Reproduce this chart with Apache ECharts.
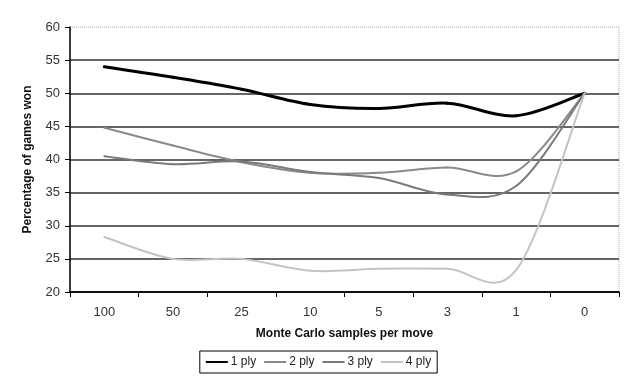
<!DOCTYPE html>
<html>
<head>
<meta charset="utf-8">
<script src="https://cdn.jsdelivr.net/npm/echarts@6/dist/echarts.min.js"></script>
<style>html,body{margin:0;padding:0;background:#fff}#c{width:637px;height:380px}</style>
</head>
<body>
<div id="c"></div>
<script>
var categories = ['100', '50', '25', '10', '5', '3', '1', '0'];
var ply1 = [54.0, 52.4, 50.6, 48.3, 47.7, 48.5, 46.6, 50.0];
var ply2 = [44.8, 42.1, 39.6, 38.0, 38.0, 38.8, 38.2, 50.0];
var ply3 = [40.5, 39.3, 39.7, 38.1, 37.2, 34.7, 36.0, 50.0];
var ply4 = [28.3, 25.0, 25.0, 23.2, 23.5, 23.5, 23.3, 50.0];
var seriesNames = ['1 ply', '2 ply', '3 ply', '4 ply'];
var yTicks = {min: 20, max: 60, interval: 5};

var chart = echarts.init(document.getElementById('c'), null, {renderer: 'canvas'});
var font = 'Liberation Sans, Arial, sans-serif';

// Excel-style smoothed line (Catmull-Rom / 6) drawn through the axis scales
function mk(name, values, color, width) {
  var n = values.length;
  return {
    name: name, type: 'custom',
    data: values.map(function (v, i) { return [i, v]; }),
    encode: {x: 0, y: 1},
    itemStyle: {color: color},
    clip: false,
    renderItem: function (params, api) {
      var i = params.dataIndex;
      if (i >= n - 1) return null;
      function P(k) { k = Math.max(0, Math.min(n - 1, k)); return api.coord([k, values[k]]); }
      var p0 = P(i - 1), p1 = P(i), p2 = P(i + 1), p3 = P(i + 2);
      return {
        type: 'bezierCurve',
        shape: {
          x1: p1[0], y1: p1[1], x2: p2[0], y2: p2[1],
          cpx1: p1[0] + (p2[0] - p0[0]) / 6, cpy1: p1[1] + (p2[1] - p0[1]) / 6,
          cpx2: p2[0] - (p3[0] - p1[0]) / 6, cpy2: p2[1] - (p3[1] - p1[1]) / 6
        },
        style: {stroke: color, lineWidth: width, fill: null, lineCap: 'round'}
      };
    }
  };
}
chart.setOption({
  animation: false,
  backgroundColor: '#fff',
  textStyle: {fontFamily: font},
  grid: {left: 70, right: 18, top: 27, bottom: 88, show: true,
         borderColor: '#aaa', borderWidth: 1, borderType: 'dotted', backgroundColor: 'transparent'},
  legend: {
    data: seriesNames.map(function (s) { return {name: s, icon: 'rect'}; }),
    bottom: 7, left: 'center',
    borderColor: '#000', borderWidth: 1, padding: [5, 6, 5, 6],
    itemWidth: 22, itemHeight: 2, itemGap: 8,
    textStyle: {fontFamily: font, fontSize: 12, color: '#222', padding: [0, 0, 0, -2]}
  },
  xAxis: {
    type: 'category', data: categories, boundaryGap: true,
    name: 'Monte Carlo samples per move', nameLocation: 'middle', nameGap: 36,
    nameTextStyle: {fontFamily: font, fontSize: 12, fontWeight: 'bold', color: '#111'},
    axisLine: {lineStyle: {color: '#000', width: 1.5}},
    axisTick: {show: true, length: 5, interval: 0, lineStyle: {color: '#000'}},
    axisLabel: {fontFamily: font, fontSize: 13, color: '#333', margin: 14, interval: 0}
  },
  yAxis: {
    type: 'value', min: yTicks.min, max: yTicks.max, interval: yTicks.interval,
    name: 'Percentage of games won', nameLocation: 'middle', nameGap: 36,
    nameTextStyle: {fontFamily: font, fontSize: 12, fontWeight: 'bold', color: '#111'},
    axisLine: {show: true, lineStyle: {color: '#000', width: 1.5}},
    axisTick: {show: true, length: 5, lineStyle: {color: '#000'}},
    axisLabel: {fontFamily: font, fontSize: 13, color: '#333', margin: 10},
    splitLine: {show: true, showMaxLine: false,
      lineStyle: {color: ['#000', '#333', '#333', '#333', '#333', '#333', '#333', '#333', 'transparent'], width: 1.5}}
  },
  series: [
    mk(seriesNames[0], ply1, '#000000', 3),
    mk(seriesNames[1], ply2, '#8a8a8a', 2),
    mk(seriesNames[2], ply3, '#7a7a7a', 2),
    mk(seriesNames[3], ply4, '#c4c4c4', 2)
  ]
});
</script>
</body>
</html>
